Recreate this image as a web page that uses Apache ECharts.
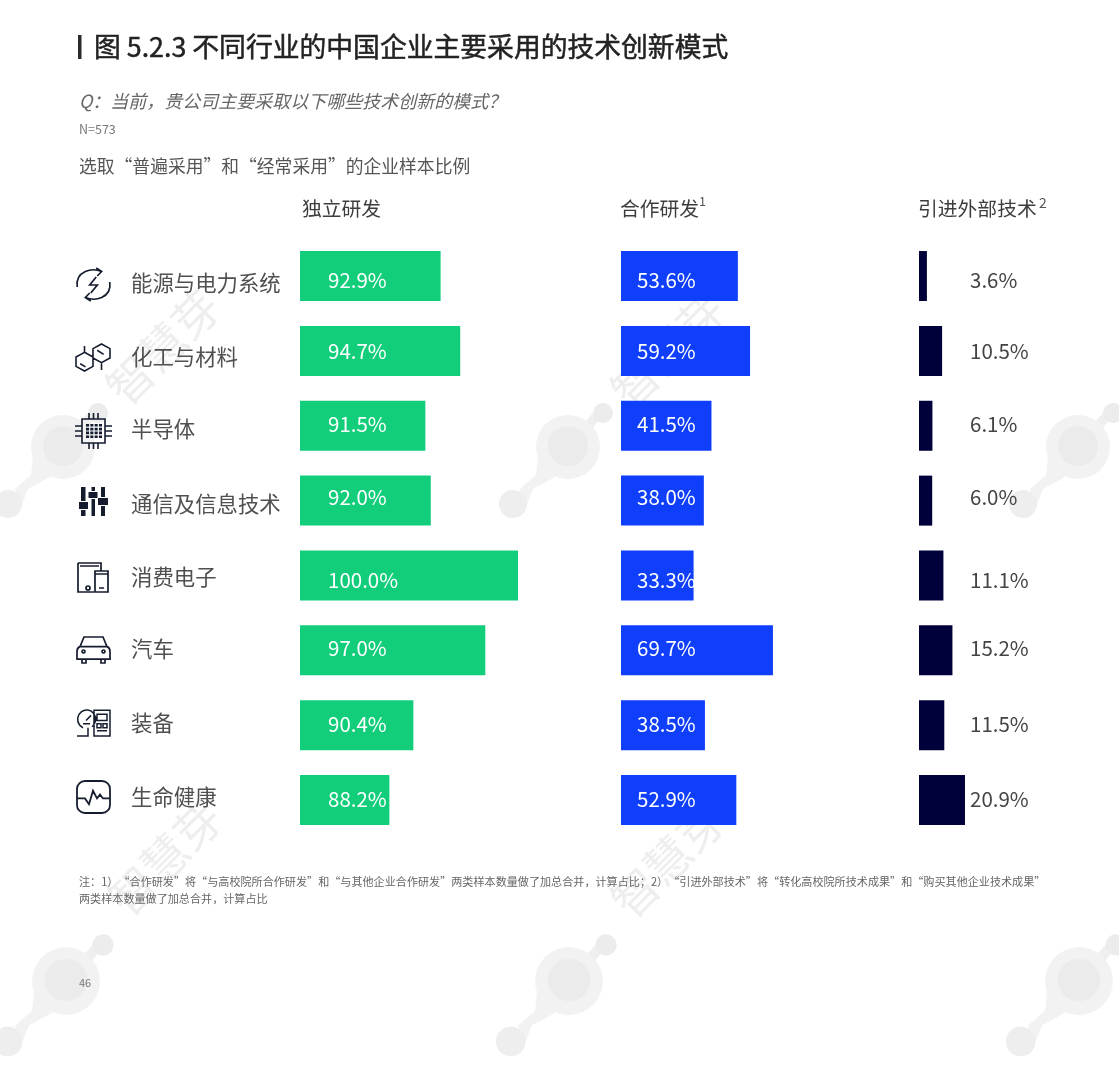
<!DOCTYPE html>
<html><head><meta charset="utf-8">
<style>html,body{margin:0;padding:0;background:#fff}#c{width:1119px;height:1080px}</style>
<script src="https://cdn.jsdelivr.net/npm/echarts@6/dist/echarts.min.js"></script>
</head><body><div id="c"></div>
<script>
const categories=['能源与电力系统','化工与材料','半导体','通信及信息技术','消费电子','汽车','装备','生命健康'];
const independentRD=[92.9,94.7,91.5,92.0,100.0,97.0,90.4,88.2];
const cooperativeRD=[53.6,59.2,41.5,38.0,33.3,69.7,38.5,52.9];
const externalTech=[3.6,10.5,6.1,6.0,11.1,15.2,11.5,20.9];
const columnTitles=['独立研发','合作研发','引进外部技术'];
const titleText='图 5.2.3 不同行业的中国企业主要采用的技术创新模式';
const questionText='Q：当前，贵公司主要采取以下哪些技术创新的模式？';
const sampleText='N=573';
const subtitleText='选取“普遍采用”和“经常采用”的企业样本比例';
const noteLine1='注：1）“合作研发”将“与高校院所合作研发”和“与其他企业合作研发”两类样本数量做了加总合并，计算占比；2）“引进外部技术”将“转化高校院所技术成果”和“购买其他企业技术成果”';
const noteLine2='两类样本数量做了加总合并，计算占比';
const pageNumber='46';
const watermarkText='智慧芽';

const FONT='"Noto Sans CJK SC","Noto Sans",sans-serif';
const top0=238.6, rowsH=598.9;
const labelNudge=[4,0,-2,-3,5,-2,-1,-1];
const catNudge=[7,6,3.5,3,1.5,-1.5,-2,-3];

const txt=(text,x,y,size,fill,extra)=>({type:'text',silent:true,x,y,style:Object.assign({text,fontSize:size,fontFamily:FONT,fill,verticalAlign:'middle',align:'left'},extra||{})});

function blob(cx,cy,s){
  const c='#f2f2f2';
  return {type:'group',silent:true,x:cx,y:cy,scaleX:s||1,scaleY:s||1,children:[
    {type:'polygon',shape:{points:[[18,-26],[29,-39],[33,-30],[24,-18]]},style:{fill:'#efefef'}},
    {type:'polygon',shape:{points:[[-30,8],[-32,28],[-48,42],[-43,62],[-35,42],[-13,30]]},style:{fill:c}},
    {type:'circle',shape:{cx:0,cy:0,r:32},style:{fill:c}},
    {type:'circle',shape:{cx:0,cy:-1,r:20},style:{fill:'#ebebeb'}},
    {type:'circle',shape:{cx:35,cy:-34,r:10},style:{fill:'#ececec'}},
    {type:'circle',shape:{cx:-55,cy:57,r:14},style:{fill:'#eeeeee'}}
  ]};
}
function mark(cx,cy){
  return {type:'text',silent:true,x:cx,y:cy,rotation:Math.PI/4,style:{text:watermarkText,fontSize:46,fontFamily:FONT,fill:'#eeeeee',align:'center',verticalAlign:'middle'}};
}
const ink='#141c2e';
function icon(d,x,y,w,h,lw,filled){
  return {type:'path',silent:true,shape:{pathData:d,layout:'cover',x,y,width:w,height:h},
    style:filled?{fill:ink,stroke:null}:{fill:null,stroke:ink,lineWidth:lw||1.6}};
}
function chipGrid(){let s='';for(let r=0;r<4;r++)for(let c=0;c<4;c++){const X=c*4.2,Y=r*3.7;s+=`M${X} ${Y}h3v2.500h-3z`;}return s;}
const icons=[
  icon('M1.500 19Q0 8 9 3.500Q16 0 24 3.500M19 0L24 3.500L20 8M31.500 14Q33 25 24 29.500Q17 33 9 29.500M14 33L9 29.500L13 25M19 9L13 17H20L14 25',77,268,33,33,1.7),
  icon('M9 10L17 14.5V23.5L9 28L1 23.5V14.5ZM25 2L33 6.5V15.5L25 20L17 15.5V6.5ZM9 10V4M25 20V27M5 21L10 24M21 8L27 12',76,344,34,27,1.6),
  icon('M7 6H30V30H7ZM0 13H7M0 18H7M0 23H7M30 13H37M30 18H37M30 23H37M14 0V6M18.500 0V6M23 0V6M14 30V36M18.500 30V36M23 30V36',75,413,37,36,1.6),
  icon(chipGrid(),86,424,16,14,1,true),
  icon('M2 0h4.500v14h-4.500zM0 15h9v7h-9zM2 23h4.500v6h-4.500zM12.500 0h3.500v4h-3.500zM9.500 5h9v6h-9zM12.500 12h3.500v17h-3.500zM22 0h4v10h-4zM19 11h10v7h-10zM22 19h4v10h-4z',79,487,29,29,1,true),
  icon('M0 0H23V8M16 29H0V0M2 3H21M8 25a2 2 0 1 0 4 0a2 2 0 1 0 -4 0M17 8H30V29H17ZM17 11H30M21 25H26',78,563,30,29,1.7),
  icon('M7 0H26L30 10H3ZM3 10Q0 11 0 15V23H33V15Q33 11 30 10M5 23V27H9V23M24 23V27H28V23M5 15a1.500 1.500 0 1 0 3 0a1.500 1.500 0 1 0 -3 0M25 15a1.500 1.500 0 1 0 3 0a1.500 1.500 0 1 0 -3 0',77,637,33,26,1.7),
  icon('M15 17A9 9 0 1 0 6 18M0 26H11V18M9 11L14 6M6 14H13M17 1H33V26H17ZM20 5H30V11H20ZM20 14H24V18H20ZM26 14H30V18H26ZM20 21H30',77,710,33,26,1.5),
  icon('M8 0H25A8 8 0 0 1 33 8V25A8 8 0 0 1 25 33H8A8 8 0 0 1 0 25V8A8 8 0 0 1 8 0ZM0 18H8L12 24L16 10L20 18L23 14L26 18H33',77,781,33,32,1.8)
];
const graphicEls=[
  blob(66,981,1.06),blob(569,981,1.06),blob(1079,981,1.06),
  blob(63,447),blob(568,447),blob(1078,447),
  mark(163,347),mark(668,350),mark(165,858),mark(668,860),
  {type:'rect',silent:true,shape:{x:78,y:35,width:3.500,height:24},style:{fill:'#2b2b2b'}},
  txt(titleText,94,47,26.8,'#222',{stroke:'#222',lineWidth:0.5}),
  txt(questionText,79,101,18,'#666',{fontStyle:'italic'}),
  txt(sampleText,79,129,12.500,'#777'),
  txt(subtitleText,79,166,17.8,'#555'),
  txt(columnTitles[0],302,208,19.8,'#3d3d3d'),
  txt(columnTitles[1],620,208,19.8,'#3d3d3d'),
  txt('1',699,201,12.500,'#555'),
  txt(columnTitles[2],918,208,19.8,'#3d3d3d'),
  txt('2',1039,203,14,'#555'),
  txt(noteLine1,79,882,11.1,'#666'),
  txt(noteLine2,79,899,11.1,'#666'),
  txt(pageNumber,79,983,11,'#777')
];

const barSeries=(values,xi,color,labelX,labelColor)=>({
  type:'bar',xAxisIndex:xi,yAxisIndex:xi,barWidth:50,silent:true,z:5,
  data:values.map((v,i)=>({value:v,label:{offset:[0,labelNudge[i]]}})),
  itemStyle:{color},
  label:{show:true,position:[labelX,'50%'],verticalAlign:'middle',align:'left',color:labelColor,fontSize:20.5,fontFamily:FONT,
    formatter:p=>p.value.toFixed(1)+'%'}
});
const rich={};
catNudge.forEach((d,i)=>{rich['r'+i]={fontSize:21.4,fontFamily:FONT,color:'#505050',padding:d>=0?[2*d,0,0,0]:[0,0,-2*d,0]};});
const yAxisBase={type:'category',inverse:true,data:categories,axisLine:{show:false},axisTick:{show:false},splitLine:{show:false}};
const xAxisBase={type:'value',show:false,splitLine:{show:false}};
const chart=echarts.init(document.getElementById('c'),null,{renderer:'canvas'});
chart.setOption({
  animation:false,backgroundColor:'#fff',
  grid:[
    {left:300,top:top0,width:218,height:rowsH},
    {left:621,top:top0,width:218,height:rowsH},
    {left:919,top:top0,width:110,height:rowsH}
  ],
  xAxis:[
    Object.assign({gridIndex:0,min:80,max:100},xAxisBase),
    Object.assign({gridIndex:1,min:0,max:100},xAxisBase),
    Object.assign({gridIndex:2,min:0,max:50},xAxisBase)
  ],
  yAxis:[
    Object.assign({gridIndex:0,axisLabel:{show:true,interval:0,align:'left',margin:169,
      formatter:(v,i)=>`{r${i}|${v}}`,rich}},yAxisBase),
    Object.assign({gridIndex:1,axisLabel:{show:false}},yAxisBase),
    Object.assign({gridIndex:2,axisLabel:{show:false}},yAxisBase)
  ],
  graphic:{elements:graphicEls},
  series:[
    {type:'custom',coordinateSystem:'none',silent:true,z:6,data:icons.map((_,i)=>i),
      renderItem:(params)=>icons[params.dataIndex]},
    barSeries(independentRD,0,'#12CE7B',28,'#fff'),
    barSeries(cooperativeRD,1,'#0F3FFB',16,'#fff'),
    barSeries(externalTech,2,'#00003A',51,'#444')
  ]
});
</script></body></html>
